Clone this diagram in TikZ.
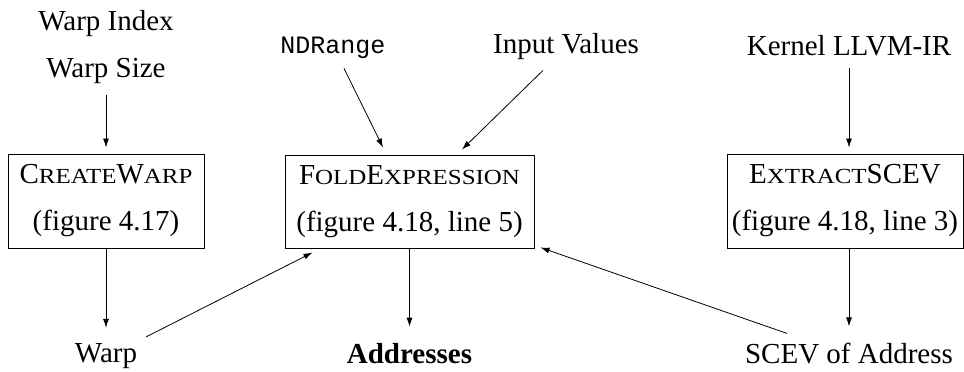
\documentclass[tikz,border=0pt]{standalone}
\usepackage{fontspec}
\setmainfont{Liberation Serif}
\setmonofont{Liberation Mono}
\newfontfamily\scwide[FakeStretch=1.16]{Liberation Serif}
\usetikzlibrary{arrows.meta,calc}
% reduced, slightly widened capitals for the small-caps procedure names
\newcommand\smc[1]{{\scwide\fontsize{21.5}{21.5}\selectfont #1}}
\begin{document}
\begin{tikzpicture}[x=1pt,y=-1pt,
  every node/.style={font=\fontsize{29}{47}\selectfont},
  lbl/.style={inner sep=0pt, anchor=base},
  procbox/.style={draw, line width=1pt, inner sep=0pt, align=center},
  arr/.style={-{Latex[length=9pt,width=6pt]}, line width=0.8pt}]
\useasboundingbox (0,0) rectangle (964,372);

% inputs
\node[lbl] (wi) at (106,30) {Warp Index};
\node[lbl] (ws) at (106,77) {Warp Size};
\node[lbl] (nd) at (333,53) {\fontsize{25}{25}\selectfont\ttfamily NDRange};
\node[lbl] (iv) at (566,53) {Input Values};
\node[lbl] (kl) at (849,55) {Kernel LLVM-IR};

% procedures
\node[procbox, minimum width=196pt, minimum height=94pt] (cw) at (106,201)
  {C\smc{REATE}W\smc{ARP}\\(figure 4.17)};
\node[procbox, minimum width=249pt, minimum height=93pt] (fold) at (409.5,201.5)
  {F\smc{OLD}E\smc{XPRESSION}\\(figure 4.18, line 5)};
\node[procbox, minimum width=236pt, minimum height=94pt] (ex) at (845,201)
  {E\smc{XTRACT}SCEV\\(figure 4.18, line 3)};

% results
\node[lbl] (wp) at (106,362) {Warp};
\node[lbl] (ad) at (409.5,363) {\bfseries Addresses};
\node[lbl] (sc) at (849,363) {SCEV of Address};

% connectors
\draw[arr, shorten <=12pt, shorten >=6pt] (ws.south) -- (cw.north);
\draw[arr, shorten >=15pt] (cw.south) -- (wp.north);
\draw[arr] ($(wp.north east)+(9,-6)$) -- ($(fold.south west)+(28,4)$);
\draw[arr] ($(nd.south)+(11,10)$) -- ($(fold.north)+(-26.5,-7)$);
\draw[arr] ($(iv.south)+(-23,11)$) -- ($(fold.north)+(52.5,-5)$);
\draw[arr, shorten >=16pt] (fold.south) -- (ad.north);
\draw[arr, shorten <=12pt, shorten >=6pt] (kl.south) -- (kl.south |- ex.north);
\draw[arr, shorten >=16pt] (sc.north |- ex.south) -- (sc.north);
\draw[arr] ($(sc.north west)+(42,-9)$) -- ($(fold.south east)+(6,-1)$);
\end{tikzpicture}
\end{document}
